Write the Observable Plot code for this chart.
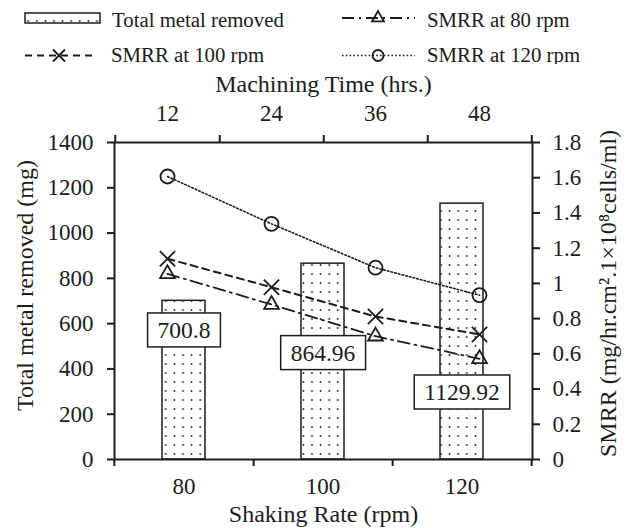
<!DOCTYPE html>
<html>
<head>
<meta charset="utf-8">
<script src="https://cdn.jsdelivr.net/npm/d3@7"></script>
<script src="https://cdn.jsdelivr.net/npm/@observablehq/plot@0.6"></script>
<style>
  body { margin: 0; background: #fff; }
  #legend svg { display: block; }
  #chart { position: relative; width: 629px; height: 464px; }
  #chart svg { position: absolute; top: 0; left: 0; }
</style>
</head>
<body>
<div id="legend"></div>
<div id="chart"></div>
<script>
// Bars: total metal removed at each shaking rate (bottom axis)
const shakingRates = ["80", "100", "120"];
const totalMetalRemoved = [700.8, 864.96, 1129.92];

// Lines: specific metal removal rate over machining time (top axis)
const machiningHours = ["12", "24", "36", "48"];
const smrr80 = [1.054, 0.88, 0.70, 0.572];
const smrr100 = [1.14, 0.978, 0.812, 0.71];
const smrr120 = [1.607, 1.338, 1.089, 0.933];

// Axis ticks
const metalTicks = [0, 200, 400, 600, 800, 1000, 1200, 1400];
const smrrTicks = [0, 0.2, 0.4, 0.6, 0.8, 1, 1.2, 1.4, 1.6, 1.8];

const INK = "#1c1c1c";
const FONT = "'Liberation Serif', 'Times New Roman', serif";
const W = 629, H = 464;
const M = {top: 78, right: 97, bottom: 69, left: 114};
const metalMax = 1400, smrrMax = 1.8;
// The SMRR axis on the right shares the vertical scale of the metal axis
const toMetal = v => v * metalMax / smrrMax;
const fromMetal = v => v * smrrMax / metalMax;

const bars = shakingRates.map((rate, i) => ({rate, total: totalMetalRemoved[i]}));
const series = [
  {name: "SMRR at 80 rpm", values: smrr80, symbol: "triangle", r: 5.5, dash: "12,5,2,5", width: 1.8},
  {name: "SMRR at 100 rpm", values: smrr100, symbol: "times", r: 7, dash: "7,5", width: 2},
  {name: "SMRR at 120 rpm", values: smrr120, symbol: "circle", r: 7, dash: "1.6,2.2", width: 1.6}
];
const points = series.flatMap(s => s.values.map((v, i) => ({series: s.name, time: machiningHours[i], smrr: v})));

// ---------- legend ----------
const legend = d3.select("#legend").append("svg").attr("width", W).attr("height", 64);
const defs = legend.append("defs");
const pat = defs.append("pattern").attr("id", "dot-fill")
  .attr("patternUnits", "userSpaceOnUse").attr("width", 8.6).attr("height", 9);
pat.append("rect").attr("width", 8.6).attr("height", 9).attr("fill", "#fff");
pat.append("circle").attr("cx", 2.4).attr("cy", 3).attr("r", 0.9).attr("fill", INK);

const lg = legend.append("g").attr("font-family", FONT).attr("font-size", 20.8).attr("fill", INK);
lg.append("rect").attr("x", 25).attr("y", 13).attr("width", 75).attr("height", 10)
  .attr("fill", "url(#dot-fill)").attr("stroke", INK).attr("stroke-width", 1.5);
lg.append("text").attr("x", 112).attr("y", 26.5).text("Total metal removed");

const legendItems = [
  {s: series[0], x0: 342, x1: 415, cx: 378, cy: 18, tx: 427, ty: 26.5, size: 62},
  {s: series[1], x0: 25, x1: 92, cx: 59, cy: 55.5, tx: 111, ty: 61.5, size: 96},
  {s: series[2], x0: 342, x1: 415, cx: 378, cy: 55.5, tx: 427, ty: 61.5, size: 95}
];
const symbolTypes = {triangle: d3.symbolTriangle, times: d3.symbolTimes, circle: d3.symbolCircle};
for (const it of legendItems) {
  lg.append("line").attr("x1", it.x0).attr("x2", it.x1).attr("y1", it.cy).attr("y2", it.cy)
    .attr("stroke", INK).attr("stroke-width", it.s.width).attr("stroke-dasharray", it.s.dash);
  lg.append("path").attr("d", d3.symbol(symbolTypes[it.s.symbol], it.size)())
    .attr("transform", `translate(${it.cx},${it.cy})`)
    .attr("fill", "none").attr("stroke", INK).attr("stroke-width", 1.8);
  lg.append("text").attr("x", it.tx).attr("y", it.ty).text(it.s.name);
}

// ---------- bars, frame and side axes ----------
const stepRate = (W - M.left - M.right) / shakingRates.length;
const stepHour = (W - M.left - M.right) / machiningHours.length;
const labelLevel = {"80": 570, "100": 470, "120": 296};
const common = {
  width: W, height: H,
  marginTop: M.top, marginRight: M.right, marginBottom: M.bottom, marginLeft: M.left,
  style: {fontFamily: FONT, fontSize: "23px", color: INK, background: "transparent", overflow: "visible"}
};

const base = Plot.plot({
  ...common,
  x: {type: "band", domain: shakingRates, paddingInner: 0.69, paddingOuter: 0.345},
  y: {domain: [0, metalMax]},
  marks: [
    Plot.barY(bars, {x: "rate", y: "total", fill: "url(#dot-fill)", stroke: INK, strokeWidth: 1.5}),
    Plot.frame({stroke: INK, strokeWidth: 2}),
    Plot.axisY(metalTicks, {anchor: "left", tickSize: 7, tickPadding: 14, strokeWidth: 2, label: null,
      tickFormat: d => String(d)}),
    Plot.axisY(smrrTicks.map(toMetal), {
      anchor: "right", tickSize: 7, tickPadding: 13, strokeWidth: 2, label: null,
      tickFormat: d => String(+fromMetal(d).toFixed(1))
    }),
    Plot.axisX({anchor: "bottom", tickSize: 0, tickPadding: 18, label: null}),
    // ticks sit on the band boundaries
    Plot.ruleX(shakingRates, {x: d => d, y1: 0, y2: 0, dx: stepRate / 2, insetBottom: -7, stroke: INK, strokeWidth: 2}),
    Plot.ruleX(shakingRates.slice(0, 1), {x: d => d, y1: 0, y2: 0, dx: -stepRate / 2, insetBottom: -7, stroke: INK, strokeWidth: 2}),
    Plot.text(bars, {x: "rate", y: d => labelLevel[d.rate], text: d => String(d.total), fontSize: 23.5, fill: INK}),
    Plot.text(["Total metal removed (mg)"], {frameAnchor: "left", textAnchor: "middle", lineAnchor: "middle",
      rotate: -90, dx: -89, dy: -15.5, fontSize: 24, fill: INK}),
    Plot.text(["SMRR (mg/hr.cm².1×10⁸cells/ml)"], {frameAnchor: "right", textAnchor: "middle", lineAnchor: "middle",
      rotate: -90, dx: 76, dy: -7.5, fontSize: 24, fill: INK}),
    Plot.text(["Shaking Rate (rpm)"], {frameAnchor: "bottom", lineAnchor: "middle", dy: 55, fontSize: 24, fill: INK})
  ]
});

// ---------- SMRR lines over machining time ----------
const overlay = Plot.plot({
  ...common,
  x: {type: "band", domain: machiningHours, padding: 0},
  y: {domain: [0, metalMax], axis: null},
  marks: [
    ...series.map(s => Plot.line(points.filter(p => p.series === s.name), {
      x: "time", y: d => toMetal(d.smrr), stroke: INK, strokeWidth: s.width, strokeDasharray: s.dash
    })),
    ...series.map(s => Plot.dot(points.filter(p => p.series === s.name), {
      x: "time", y: d => toMetal(d.smrr), symbol: s.symbol, r: s.r, stroke: INK, strokeWidth: 1.8, fill: "none"
    })),
    Plot.axisX({anchor: "top", tickSize: 0, tickPadding: 22, label: null}),
    Plot.ruleX(machiningHours, {x: d => d, y1: metalMax, y2: metalMax, dx: stepHour / 2, insetTop: -7, stroke: INK, strokeWidth: 2}),
    Plot.ruleX(machiningHours.slice(0, 1), {x: d => d, y1: metalMax, y2: metalMax, dx: -stepHour / 2, insetTop: -7, stroke: INK, strokeWidth: 2}),
    Plot.text(["Machining Time (hrs.)"], {frameAnchor: "top", lineAnchor: "middle", dy: -58, fontSize: 24, fill: INK})
  ]
});

const chart = document.getElementById("chart");
chart.append(base, overlay);

// Boxed value labels: outline each bar total with a white box
const labelTexts = new Set(totalMetalRemoved.map(String));
d3.select(base).selectAll("text").filter(function () { return labelTexts.has(this.textContent); })
  .each(function () {
    const b = this.getBBox();
    const padX = 10, padY = 4;
    const rect = document.createElementNS("http://www.w3.org/2000/svg", "rect");
    rect.setAttribute("x", b.x - padX);
    rect.setAttribute("y", b.y - padY);
    rect.setAttribute("width", b.width + 2 * padX);
    rect.setAttribute("height", b.height + 2 * padY);
    rect.setAttribute("fill", "#fff");
    rect.setAttribute("stroke", INK);
    rect.setAttribute("stroke-width", 1.5);
    const t = this.getAttribute("transform");
    if (t) rect.setAttribute("transform", t);
    this.parentNode.insertBefore(rect, this);
  });
</script>
</body>
</html>
